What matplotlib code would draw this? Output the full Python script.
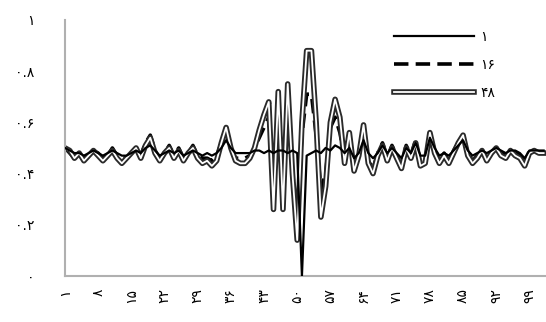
import matplotlib
matplotlib.use("Agg")
import matplotlib.pyplot as plt
import matplotlib.patheffects as pe

plt.rcParams['font.family'] = ['DejaVu Sans']

x = list(range(1, 103))

s1 = [0.50, 0.49, 0.48, 0.48, 0.47, 0.48, 0.49, 0.48, 0.47, 0.48,
      0.49, 0.48, 0.47, 0.47, 0.48, 0.49, 0.48, 0.50, 0.51, 0.49,
      0.47, 0.48, 0.49, 0.48, 0.49, 0.47, 0.48, 0.49, 0.48, 0.47,
      0.48, 0.47, 0.48, 0.50, 0.53, 0.50, 0.48, 0.48, 0.48, 0.48,
      0.49, 0.49, 0.48, 0.49, 0.48, 0.49, 0.49, 0.48, 0.49, 0.48,
      0.00, 0.47, 0.48, 0.49, 0.48, 0.50, 0.49, 0.51, 0.50, 0.48,
      0.50, 0.46, 0.48, 0.53, 0.48, 0.46, 0.48, 0.51, 0.48, 0.50,
      0.48, 0.46, 0.50, 0.48, 0.52, 0.47, 0.47, 0.54, 0.50, 0.47,
      0.48, 0.47, 0.49, 0.51, 0.53, 0.49, 0.47, 0.48, 0.49, 0.48,
      0.49, 0.50, 0.49, 0.48, 0.49, 0.49, 0.48, 0.46, 0.49, 0.49,
      0.49, 0.49]

s16 = [0.50, 0.48, 0.46, 0.48, 0.45, 0.47, 0.49, 0.48, 0.46, 0.47,
       0.50, 0.47, 0.46, 0.46, 0.48, 0.50, 0.47, 0.52, 0.55, 0.49,
       0.46, 0.48, 0.51, 0.47, 0.50, 0.46, 0.48, 0.51, 0.47, 0.46,
       0.46, 0.45, 0.47, 0.52, 0.57, 0.50, 0.46, 0.46, 0.46, 0.47,
       0.50, 0.54, 0.58, 0.62, 0.30, 0.66, 0.30, 0.68, 0.40, 0.25,
       0.55, 0.71, 0.71, 0.55, 0.34, 0.40, 0.58, 0.62, 0.56, 0.46,
       0.55, 0.43, 0.47, 0.58, 0.45, 0.42, 0.48, 0.52, 0.46, 0.51,
       0.47, 0.43, 0.51, 0.47, 0.53, 0.44, 0.45, 0.56, 0.49, 0.45,
       0.48, 0.45, 0.49, 0.52, 0.55, 0.48, 0.45, 0.47, 0.49, 0.46,
       0.48, 0.50, 0.48, 0.47, 0.49, 0.48, 0.47, 0.44, 0.48, 0.49,
       0.48, 0.48]

s48 = [0.50, 0.49, 0.46, 0.48, 0.45, 0.47, 0.49, 0.47, 0.45, 0.47,
       0.49, 0.46, 0.44, 0.46, 0.48, 0.50, 0.46, 0.51, 0.54, 0.48,
       0.45, 0.48, 0.50, 0.46, 0.49, 0.45, 0.48, 0.50, 0.46, 0.44,
       0.45, 0.43, 0.45, 0.52, 0.58, 0.50, 0.45, 0.44, 0.44, 0.46,
       0.50, 0.57, 0.63, 0.68, 0.26, 0.72, 0.26, 0.75, 0.40, 0.14,
       0.60, 0.88, 0.88, 0.60, 0.23, 0.35, 0.60, 0.69, 0.62, 0.44,
       0.56, 0.41, 0.47, 0.59, 0.44, 0.40, 0.47, 0.51, 0.45, 0.50,
       0.46, 0.42, 0.50, 0.46, 0.52, 0.43, 0.44, 0.56, 0.48, 0.44,
       0.47, 0.44, 0.48, 0.52, 0.55, 0.47, 0.44, 0.46, 0.49, 0.45,
       0.48, 0.50, 0.47, 0.46, 0.49, 0.47, 0.46, 0.43, 0.48, 0.49,
       0.48, 0.48]

labels = ['۱', '۱۶', '۴۸']
xtick_vals = [1, 8, 15, 22, 29, 36, 43, 50, 57, 64, 71, 78, 85, 92, 99]
xtick_labels = ['۱', '۸', '۱۵', '۲۲', '۲۹', '۳۶', '۴۳', '۵۰', '۵۷', '۶۴', '۷۱', '۷۸', '۸۵', '۹۲', '۹۹']
ytick_vals = [0, 0.2, 0.4, 0.6, 0.8, 1.0]
ytick_labels = ['۰', '۰.۲', '۰.۴', '۰.۶', '۰.۸', '۱']

fig = plt.figure(figsize=(5.46, 3.22), dpi=100)
ax = fig.add_axes([0.119, 0.143, 0.881, 0.795])

ax.plot(x, s1, color='black', lw=1.6, label=labels[0], zorder=3)
ax.plot(x, s16, color='black', lw=2.6, ls=(0, (4, 2)), label=labels[1], zorder=2)
ax.plot(x, s48, color='white', lw=1.3, label=labels[2], zorder=2.5,
        path_effects=[pe.Stroke(linewidth=4.0, foreground='#2a2a2a'), pe.Normal()])

ax.set_xlim(1, 102.5)
ax.set_ylim(0, 1)
ax.set_xticks(xtick_vals)
ax.set_xticklabels(xtick_labels, rotation=90, fontsize=10)
ax.set_yticks(ytick_vals)
ax.set_yticklabels(ytick_labels, fontsize=10)
ax.tick_params(length=0, pad=9)
ax.tick_params(axis='y', pad=22)
for s in ['top', 'right']:
    ax.spines[s].set_visible(False)
for s in ['left', 'bottom']:
    ax.spines[s].set_color('#b0b0b0')
    ax.spines[s].set_linewidth(1.5)

leg = ax.legend(loc='upper right', bbox_to_anchor=(0.92, 1.01), frameon=False,
                fontsize=10, handlelength=5.8, labelspacing=1.0, handletextpad=0.4)

fig.savefig('out.png', dpi=100)
